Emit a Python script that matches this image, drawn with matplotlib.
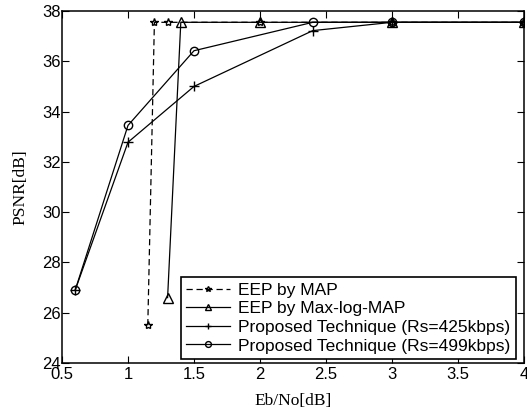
import matplotlib
matplotlib.use("Agg")
import matplotlib.pyplot as plt

# Eb/No [dB] and PSNR [dB]
x_map = [1.15, 1.2, 1.3, 2, 3, 4]
y_map = [25.5, 37.55, 37.55, 37.55, 37.55, 37.55]

x_maxlog = [1.3, 1.4, 2, 3, 4]
y_maxlog = [26.6, 37.55, 37.55, 37.55, 37.55]

x_prop = [0.6, 1, 1.5, 2.4, 3, 4]
y_425 = [26.9, 32.78, 35.0, 37.22, 37.55, 37.55]
y_499 = [26.9, 33.45, 36.42, 37.55, 37.55, 37.55]

labels = ["EEP by MAP", "EEP by Max-log-MAP",
          "Proposed Technique (Rs=425kbps)", "Proposed Technique (Rs=499kbps)"]

plt.rcParams['font.family'] = ['Liberation Sans', 'DejaVu Sans']

fig = plt.figure(figsize=(5.27, 4.13), dpi=100)
ax = fig.add_axes([62/527, 50/413, 462/527, 352/413])

ax.plot(x_map, y_map, 'k--', marker='*', ms=6, mfc='none', lw=0.9, dashes=(5, 3), label=labels[0])
ax.plot(x_maxlog, y_maxlog, 'k-', marker='^', ms=7, mfc='none', lw=0.9, label=labels[1])
ax.plot(x_prop, y_425, 'k-', marker='+', ms=7, lw=0.9, label=labels[2])
ax.plot(x_prop, y_499, 'k-', marker='o', ms=6, mfc='none', lw=0.9, label=labels[3])

ax.set_xlim(0.5, 4)
ax.set_ylim(24, 38)
ax.set_xticks([0.5, 1, 1.5, 2, 2.5, 3, 3.5, 4])
ax.set_xticklabels(["0.5", "1", "1.5", "2", "2.5", "3", "3.5", "4"])
ax.set_yticks(range(24, 39, 2))
ax.tick_params(direction='in', top=True, right=True, labelsize=12, length=5)
ax.tick_params(axis='x', pad=3)
ax.tick_params(axis='y', pad=1)
for s in ax.spines.values():
    s.set_linewidth(1.1)

ax.set_xlabel("Eb/No[dB]", family='Liberation Serif', fontsize=12.5, labelpad=8)
ax.set_ylabel("PSNR[dB]", family='Liberation Serif', fontsize=12.5, labelpad=10)

leg = ax.legend(loc='lower right', bbox_to_anchor=(0.982, 0.012), fontsize=12.5,
                handlelength=2.5, handletextpad=0.5, labelspacing=0.2,
                borderpad=0.3, borderaxespad=0, fancybox=False, framealpha=1,
                markerscale=0.7)
leg.get_frame().set_edgecolor('black')
leg.get_frame().set_linewidth(1.2)

fig.savefig("out.png", dpi=100)
